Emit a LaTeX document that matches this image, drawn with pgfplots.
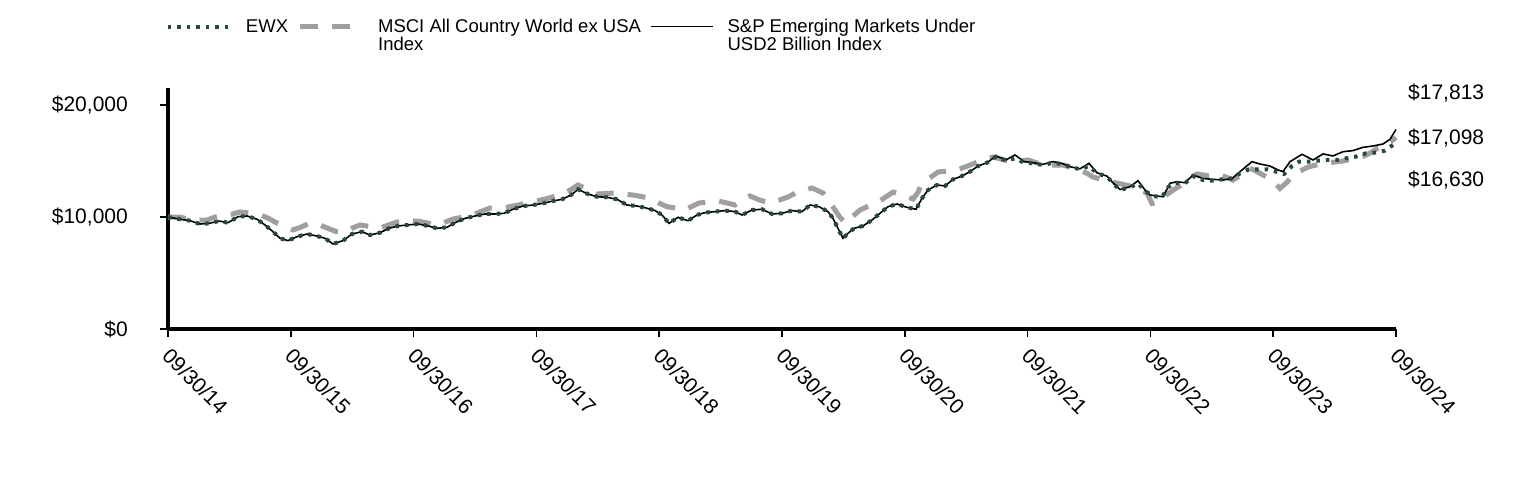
\documentclass[border=0pt]{standalone}
\usepackage{fontspec}
\setmainfont{Liberation Sans}
\usepackage{pgfplots}
\usepackage{pgfplotstable}
\pgfplotsset{compat=1.18}
\definecolor{ewxgreen}{RGB}{38,74,60}
\definecolor{msgray}{RGB}{162,158,158}

\pgfplotstableread{
pos val
168 10000
180 9800
190 9670
200 9375
209 9430
219 9640
228 9490
238 10030
247 10090
257 9800
265 9290
273 8690
280 8100
288 7890
297 8240
307 8480
317 8300
325 8100
333 7590
343 7890
352 8480
362 8690
370 8390
380 8600
389 8990
398 9200
408 9290
418 9375
428 9200
437 8990
447 9080
455 9490
465 9880
475 10090
485 10270
495 10270
504 10330
513 10690
523 10980
533 11070
543 11220
553 11430
562 11580
571 11960
578 12470
588 12050
597 11810
607 11760
617 11580
627 11070
637 10980
645 10830
655 10580
662 10180
669 9430
678 9970
688 9670
697 10180
705 10390
715 10480
725 10570
735 10480
742 10180
752 10625
762 10690
772 10270
782 10330
792 10570
802 10480
810 11070
819 10920
828 10480
833 9880
838 8990
843 8100
848 8540
854 8990
863 9200
872 9730
880 10330
888 10920
897 11160
907 10860
916 10690
922 11670
928 12410
937 12860
945 12770
953 13360
962 13660
970 14050
978 14550
987 14850
996 15390
1006 15030
1015 15240
1024 14850
1033 14790
1043 14640
1053 14850
1062 14730
1070 14490
1080 14260
1089 14550
1097 13900
1107 13600
1113 13010
1120 12410
1130 12650
1138 13010
1146 12260
1153 11880
1162 11760
1168 12650
1175 13060
1185 13010
1193 13660
1203 13300
1212 13240
1222 13360
1232 13440
1240 13900
1249 14260
1258 14260
1267 14260
1276 14050
1284 13840
1292 14550
1299 14940
1308 14940
1317 15030
1327 15090
1337 15090
1346 15240
1356 15390
1366 15690
1376 15750
1385 15930
1396 16630
}\ewxdata

\pgfplotstableread{
pos val
168 10000
180 9800
190 9670
200 9375
209 9430
219 9640
228 9490
238 10030
247 10090
257 9800
265 9290
273 8690
280 8100
288 7890
297 8240
307 8480
317 8300
325 8100
333 7590
343 7890
352 8480
362 8690
370 8390
380 8600
389 8990
398 9200
408 9290
418 9375
428 9200
437 8990
447 9080
455 9490
465 9880
475 10090
485 10270
495 10270
504 10330
513 10690
523 10980
533 11070
543 11220
553 11430
562 11580
571 11960
578 12470
588 12050
597 11810
607 11760
617 11580
627 11070
637 10980
645 10830
655 10580
662 10180
669 9430
678 9970
688 9670
697 10180
705 10390
715 10480
725 10570
735 10480
742 10180
752 10625
762 10690
772 10270
782 10330
792 10570
802 10480
810 11070
819 10920
828 10480
833 9880
838 8990
843 8100
848 8540
854 8990
863 9200
872 9730
880 10330
888 10920
897 11160
907 10860
916 10690
922 11670
928 12410
937 12860
945 12770
953 13360
962 13660
970 14050
978 14550
987 14850
996 15450
1006 15100
1015 15540
1024 14950
1033 14850
1043 14700
1053 14950
1062 14780
1070 14490
1080 14300
1089 14790
1097 13950
1107 13650
1113 13050
1120 12450
1130 12700
1138 13240
1146 12300
1150 11960
1163 11810
1170 13010
1177 13150
1185 13060
1193 13750
1203 13440
1213 13360
1223 13300
1232 13440
1242 14200
1252 14940
1260 14730
1270 14550
1278 14200
1283 14050
1290 14940
1302 15600
1313 15090
1323 15630
1333 15450
1343 15830
1353 15930
1363 16220
1373 16340
1383 16520
1390 16940
1396 17813
}\spdata

\pgfplotstableread{
pos val
168 10000
180 10000
192 9700
207 9730
215 10000
223 10180
232 10250
240 10450
250 10350
260 10200
268 9900
275 9550
284 9200
293 8840
301 9100
310 9460
318 9350
327 9020
336 8700
345 8660
352 9000
360 9290
370 9150
380 9020
389 9300
397 9550
407 9650
417 9640
426 9500
435 9290
444 9500
453 9820
463 10000
473 10180
481 10500
490 10800
499 10850
508 10890
517 11050
527 11250
536 11420
545 11600
555 11850
565 12140
572 12500
578 12860
588 12450
597 12050
606 12100
615 12140
624 12050
633 11960
643 11800
652 11600
660 11200
667 10920
676 10800
685 10625
692 10950
699 11250
709 11350
718 11430
727 11250
735 11070
742 11500
750 11880
760 11500
770 11250
779 11500
788 11790
797 12200
805 12400
812 12590
823 12140
828 11500
833 10890
839 10100
845 9460
852 10000
860 10625
869 11000
878 11340
886 11800
893 12230
903 11950
913 11600
918 12200
922 13040
930 13500
938 14020
948 14100
957 14200
966 14500
975 14820
984 15100
993 15360
1002 15150
1012 14910
1020 15000
1028 15090
1036 14850
1045 14640
1054 14640
1063 14640
1072 14400
1082 14110
1088 13850
1093 13570
1102 13350
1112 13130
1121 12950
1130 12770
1139 12450
1147 12140
1152 11200
1157 11300
1163 11760
1173 12400
1183 12950
1190 13400
1197 13840
1207 13700
1217 13840
1225 13600
1233 13300
1242 13800
1250 14370
1257 14050
1263 13750
1272 13300
1280 12550
1287 13100
1293 13750
1300 14100
1308 14460
1316 14640
1325 14820
1334 14900
1343 15000
1352 15180
1362 15360
1370 15700
1378 16160
1387 16450
1396 17098
}\msdata

\begin{document}
\begin{tikzpicture}
\useasboundingbox (0,0) rectangle (1524pt,480pt);
\begin{axis}[
  at={(168pt,151pt)}, anchor=south west,
  scale only axis, width=1228pt, height=240.8pt,
  xmin=168, xmax=1396, ymin=0, ymax=21500,
  axis x line*=bottom, axis y line*=left,
  axis line style={line width=3.5pt, -},
  tick align=outside, major tick length=8pt,
  tick style={line width=1.5pt, black},
  scaled ticks=false,
  xtick={168,290.8,413.6,536.4,659.2,782,904.8,1027.6,1150.4,1273.2,1396},
  xticklabels={09/30/14,09/30/15,09/30/16,09/30/17,09/30/18,09/30/19,09/30/20,09/30/21,09/30/22,09/30/23,09/30/24},
  ytick={0,10000,20000},
  yticklabels={{\$0},{\$10,000},{\$20,000}},
  ticklabel style={font=\fontsize{21}{24}\selectfont},
  xticklabel style={rotate=-45, anchor=north west, inner sep=0pt, xshift=9.4pt, yshift=-4pt},
  yticklabel style={anchor=east, inner sep=0pt, xshift=-32pt},
  clip=false,
  legend columns=3,
  legend image code/.code={\draw[#1] (0pt,9pt) -- (62pt,9pt);},
  legend style={draw=none, fill=none, inner sep=0pt, outer sep=0pt,
    at={(rel axis cs:0,1)}, anchor=north west, xshift=-2pt, yshift=71pt,
    font=\fontsize{18.5}{18}\selectfont,
    cells={align=left, anchor=west},
    /tikz/every odd column/.append style={column sep=12pt},
    /tikz/every even column/.append style={column sep=7pt}},
]
\addlegendimage{color=ewxgreen, line width=4pt, dash pattern=on 3.5pt off 6pt}
\addlegendentry{EWX\\\phantom{I}}
\addlegendimage{color=msgray, line width=5pt, dash pattern=on 18pt off 14pt}
\addlegendentry{MSCI All Country World ex USA\\Index}
\addlegendimage{color=black, line width=1.6pt}
\addlegendentry{S\&P Emerging Markets Under\\USD2 Billion Index}

\addplot[forget plot, color=msgray, line width=5pt, dash pattern=on 18pt off 14pt] table[x=pos, y=val] {\msdata};
\addplot[forget plot, color=black, line width=1.6pt] table[x=pos, y=val] {\spdata};
\addplot[forget plot, color=ewxgreen, line width=4pt, dash pattern=on 3.5pt off 6pt] table[x=pos, y=val] {\ewxdata};

\node[anchor=west, font=\fontsize{21}{24}\selectfont, inner sep=0pt] at (axis cs:1408,21070) {\$17,813};
\node[anchor=west, font=\fontsize{21}{24}\selectfont, inner sep=0pt] at (axis cs:1408,17054) {\$17,098};
\node[anchor=west, font=\fontsize{21}{24}\selectfont, inner sep=0pt] at (axis cs:1408,13259) {\$16,630};
\end{axis}
\end{tikzpicture}
\end{document}
